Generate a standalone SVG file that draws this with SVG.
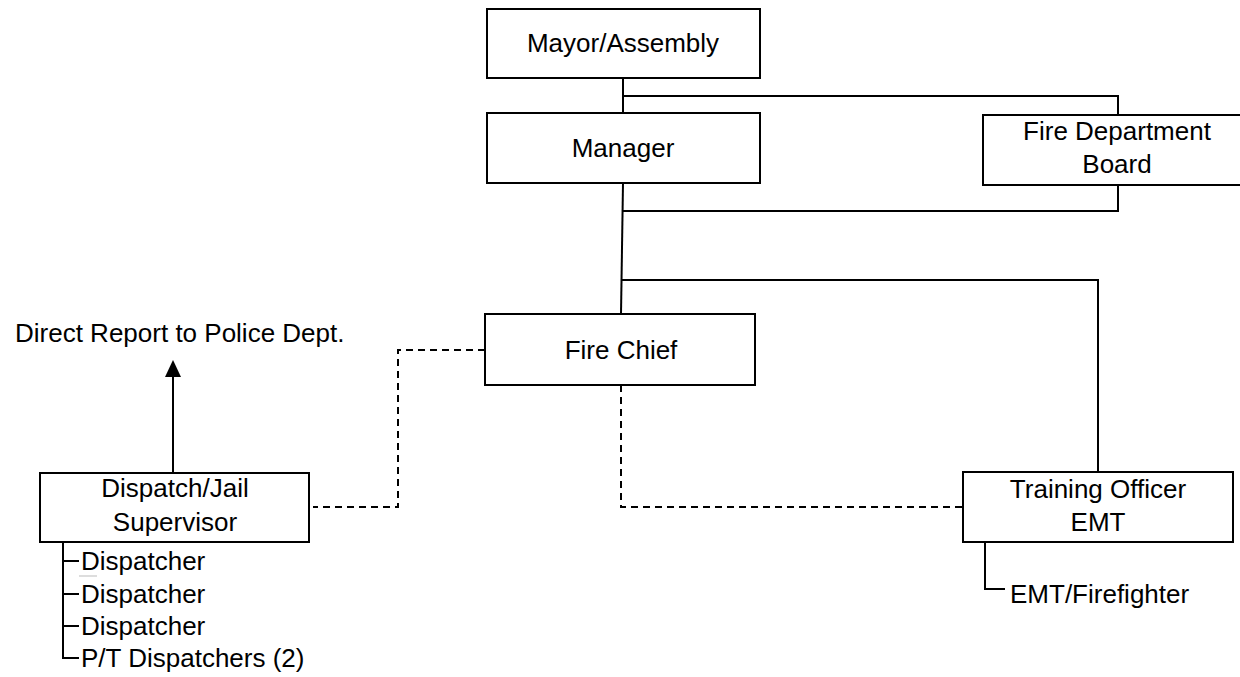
<svg xmlns="http://www.w3.org/2000/svg" width="1240" height="677" viewBox="0 0 1240 677">
<style>
.box{fill:#fff;stroke:#000;stroke-width:2}
.t{font-family:"Liberation Sans",Arial,sans-serif;font-size:26px;fill:#000}
.c{text-anchor:middle}
.ln{fill:none;stroke:#000;stroke-width:2}
.dash{fill:none;stroke:#000;stroke-width:2;stroke-dasharray:7 5}
</style>
<rect width="1240" height="677" fill="#fff"/>
<g id="connectors">
<line class="ln" x1="623" y1="78" x2="623" y2="113"/>
<polyline class="ln" points="623,96 1118,96 1118,115"/>
<line class="ln" x1="623" y1="183" x2="621" y2="314"/>
<polyline class="ln" points="1118,185 1118,211 622,211"/>
<polyline class="ln" points="622,280 1098,280 1098,472"/>
<polyline class="dash" points="485,350 398,350 398,507 313,507"/>
<polyline class="dash" points="621,385 621,507 963,507"/>
<polyline class="ln" points="985,542 985,589 1005,589"/>
<line class="ln" x1="173" y1="473" x2="173" y2="374"/>
<polygon points="165,377 181,377 173,360" fill="#000"/>
<polyline class="ln" points="63,542 63,658 79,658"/>
<line class="ln" x1="63" y1="561" x2="79" y2="561"/>
<line class="ln" x1="63" y1="594" x2="79" y2="594"/>
<line class="ln" x1="63" y1="626" x2="79" y2="626"/>
<line x1="79" y1="576" x2="97" y2="576" stroke="#bbb" stroke-width="1"/>
</g>
<g id="mayor">
<rect class="box" x="487" y="9" width="273" height="69"/>
<text class="t c" x="623" y="52">Mayor/Assembly</text>
</g>
<g id="manager">
<rect class="box" x="487" y="113" width="273" height="70"/>
<text class="t c" x="623" y="157">Manager</text>
</g>
<g id="board">
<rect class="box" x="983" y="115" width="270" height="70"/>
<text class="t c" x="1117" y="140">Fire Department</text>
<text class="t c" x="1117" y="173">Board</text>
</g>
<g id="chief">
<rect class="box" x="485" y="314" width="270" height="71"/>
<text class="t c" x="621" y="359">Fire Chief</text>
</g>
<g id="training">
<rect class="box" x="963" y="472" width="270" height="70"/>
<text class="t c" x="1098" y="498">Training Officer</text>
<text class="t c" x="1098" y="531">EMT</text>
</g>
<g id="dispatch">
<rect class="box" x="40" y="473" width="269" height="69"/>
<text class="t c" x="175" y="497">Dispatch/Jail</text>
<text class="t c" x="175" y="531">Supervisor</text>
</g>
<g id="police">
<text class="t" x="15" y="342">Direct Report to Police Dept.</text>
</g>
<g id="emt-firefighter">
<text class="t" x="1010" y="603">EMT/Firefighter</text>
</g>
<g id="dispatchers">
<text class="t" x="81" y="570">Dispatcher</text>
<text class="t" x="81" y="603">Dispatcher</text>
<text class="t" x="81" y="635">Dispatcher</text>
<text class="t" x="81" y="667">P/T Dispatchers (2)</text>
</g>
</svg>
